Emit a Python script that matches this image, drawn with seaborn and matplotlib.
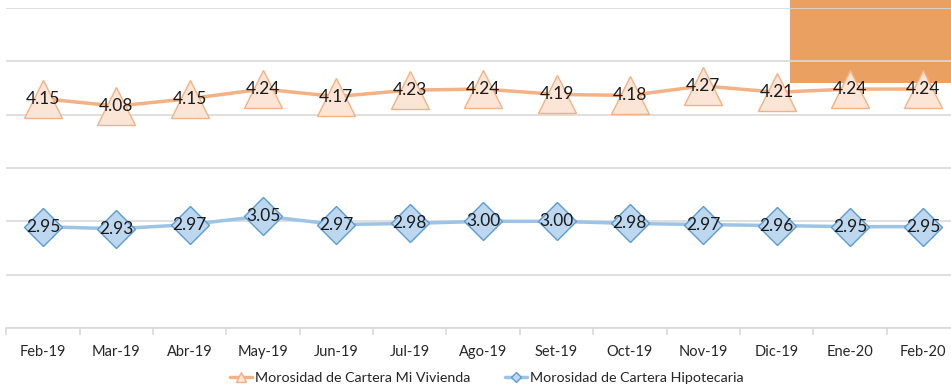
import matplotlib
matplotlib.use("Agg")
import matplotlib.pyplot as plt
from matplotlib.lines import Line2D
from matplotlib.patches import Rectangle
import seaborn as sns
import pandas as pd

months = ["Feb-19", "Mar-19", "Abr-19", "May-19", "Jun-19", "Jul-19", "Ago-19",
          "Set-19", "Oct-19", "Nov-19", "Dic-19", "Ene-20", "Feb-20"]
mi_vivienda = [4.15, 4.08, 4.15, 4.24, 4.17, 4.23, 4.24, 4.19, 4.18, 4.27, 4.21, 4.24, 4.24]
hipotecaria = [2.95, 2.93, 2.97, 3.05, 2.97, 2.98, 3.00, 3.00, 2.98, 2.97, 2.96, 2.95, 2.95]
series_names = ["Morosidad de Cartera Mi Vivienda", "Morosidad de Cartera Hipotecaria"]

sns.set_theme(style="white")
plt.rcParams["font.family"] = ["Lato", "DejaVu Sans"]

df = pd.DataFrame({"mes": months, "vivienda": mi_vivienda, "hipotecaria": hipotecaria})
df["pos"] = range(len(months))

fig = plt.figure(figsize=(9.51, 3.92), dpi=100)
ax = fig.add_axes([6.3 / 951, 1 - 328 / 392, (960 - 6.3) / 951, 320 / 392])

# decorative block in the upper right corner, kept under the gridlines
ax.add_patch(Rectangle((790 / 951, 1 - 83 / 392), (951 - 790) / 951, 83 / 392,
                       transform=fig.transFigure, facecolor="#E9A060",
                       edgecolor="none", zorder=0.1, clip_on=False))

orange_line, orange_face, orange_edge = "#F4B183", "#FBE5D6", "#F4B183"
blue_line, blue_face, blue_edge = "#9DC3E6", "#BDD7EE", "#5B9BD5"

sns.lineplot(data=df, x="pos", y="vivienda", ax=ax, color=orange_line, linewidth=2.5,
             marker="^", markersize=27, markerfacecolor=orange_face,
             markeredgecolor=orange_edge, markeredgewidth=1.0, zorder=3)
sns.lineplot(data=df, x="pos", y="hipotecaria", ax=ax, color=blue_line, linewidth=2.5,
             marker="D", markersize=19, markerfacecolor=blue_face,
             markeredgecolor=blue_edge, markeredgewidth=1.0, zorder=3)

for i, (a, b) in enumerate(zip(mi_vivienda, hipotecaria)):
    ax.text(i, a, f"{a:.2f}", ha="center", va="center", fontsize=12.5, color="#1a1a1a", zorder=5)
    ax.text(i, b, f"{b:.2f}", ha="center", va="center", fontsize=12.5, color="#1a1a1a", zorder=5)

ax.set_xlim(-0.5, len(months) - 0.5)
ax.set_ylim(2.0, 5.0)
ax.set_yticks([2.0, 2.5, 3.0, 3.5, 4.0, 4.5, 5.0])
ax.yaxis.grid(True, color="#d9d9d9", linewidth=1.2)
ax.set_axisbelow(True)
ax.tick_params(axis="y", left=False, labelleft=False)

ax.set_xticks(range(len(months)))
ax.set_xticklabels(months, fontsize=10.5, color="#262626")
ax.set_xticks([i + 0.5 for i in range(-1, len(months))], minor=True)
ax.tick_params(axis="x", which="major", length=0, pad=12)
ax.tick_params(axis="x", which="minor", length=5, color="#d9d9d9", width=1.2, bottom=True)
ax.set_xlabel("")
ax.set_ylabel("")

for side in ["top", "right", "left"]:
    ax.spines[side].set_visible(False)
ax.spines["bottom"].set_color("#d9d9d9")
ax.spines["bottom"].set_linewidth(1.2)

handles = [
    Line2D([0], [0], color=orange_line, linewidth=2.5, marker="^", markersize=7,
           markerfacecolor=orange_face, markeredgecolor=orange_edge),
    Line2D([0], [0], color=blue_line, linewidth=2.5, marker="D", markersize=5,
           markerfacecolor=blue_face, markeredgecolor=blue_edge),
]
fig.legend(handles, series_names, loc="center", bbox_to_anchor=(487 / 951, 1 - 378 / 392),
           ncol=2, frameon=False, fontsize=10.3, handlelength=1.55, handletextpad=0.2,
           columnspacing=2.4)

fig.savefig("out.png", dpi=100)
